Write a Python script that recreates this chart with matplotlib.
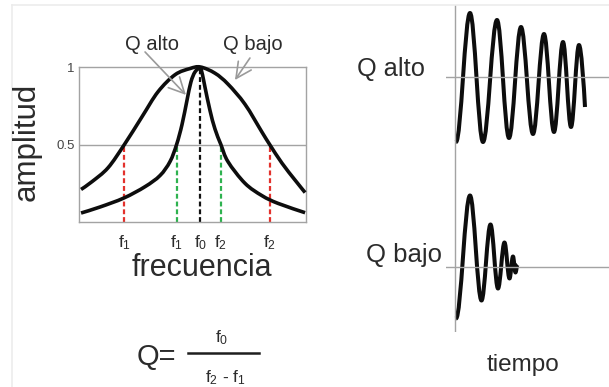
import numpy as np
import matplotlib
matplotlib.use("Agg")
import matplotlib.pyplot as plt
from matplotlib.path import Path
from matplotlib.patches import PathPatch
from matplotlib.lines import Line2D

plt.rcParams['font.family'] = 'Liberation Sans'

# resonance curves (frequency in arbitrary units, amplitude normalised)
f0 = 5.35
f1_bajo, f2_bajo = 2.0, 8.4
f1_alto, f2_alto = 4.3, 6.25

bajo_f = [0.09, 0.57, 1.28, 2.0, 2.78, 3.48, 4.23, 4.89, 5.35, 5.99, 6.56, 7.31, 8.06, 8.4, 8.94, 9.52, 9.96]
bajo_a = [0.21, 0.26, 0.35, 0.50, 0.68, 0.84, 0.95, 0.99, 1.0, 0.96, 0.89, 0.76, 0.58, 0.50, 0.38, 0.27, 0.19]

alto_izq_f = [0.09, 0.93, 1.98, 2.91, 3.57, 4.01, 4.3, 4.54, 4.76, 4.93, 5.11, 5.35]
alto_izq_a = [0.058, 0.097, 0.155, 0.228, 0.30, 0.39, 0.50, 0.63, 0.787, 0.903, 0.968, 1.0]
alto_der_f = [5.35, 5.44, 5.55, 5.77, 5.99, 6.25, 6.56, 7.31, 8.06, 8.77, 9.96]
alto_der_a = [1.0, 0.95, 0.87, 0.72, 0.60, 0.50, 0.39, 0.25, 0.17, 0.12, 0.06]

# damped oscillations: extrema (time, amplitude), arbitrary units
t_alto = [1, 15, 28, 42, 54, 66, 78, 89, 99, 108, 116, 124, 130]
a_alto = [-65, 64, -65, 57, -61, 50, -57, 43, -55, 35, -50, 32, -30]
t_bajo = [1, 15, 26.5, 35.5, 43, 49.5, 54.5, 58, 60.5, 62.5]
a_bajo = [-52, 71, -34, 42, -22, 24, -12, 10, -6, 2]

GRIS = '#a3a3a3'
TEXTO = '#2b2b2b'


def smooth_path(x, y):
    # Catmull-Rom through the points, as cubic Bezier segments
    p = np.column_stack([x, y]).astype(float)
    ext = np.vstack([p[0], p, p[-1]])
    verts = [p[0]]
    codes = [Path.MOVETO]
    for i in range(len(p) - 1):
        p0, p1, p2, p3 = ext[i], ext[i + 1], ext[i + 2], ext[i + 3]
        verts += [p1 + (p2 - p0) / 6, p2 - (p3 - p1) / 6, p2]
        codes += [Path.CURVE4] * 3
    return Path(verts, codes)


def wave_path(t, a, k=0.36, end_free=False):
    # half-cycles between extrema, flat tangent at each peak/trough
    verts = [(t[0], a[0])]
    codes = [Path.MOVETO]
    for i in range(len(t) - 1):
        dt = t[i + 1] - t[i]
        c1 = (t[i] + k * dt, a[i])
        if end_free and i == len(t) - 2:
            c2 = (t[i + 1] - 0.2 * dt, a[i + 1] + 0.35 * (a[i] - a[i + 1]))
        else:
            c2 = (t[i + 1] - k * dt, a[i + 1])
        verts += [c1, c2, (t[i + 1], a[i + 1])]
        codes += [Path.CURVE4] * 3
    return Path(verts, codes)


fig = plt.figure(figsize=(6.09, 3.87), dpi=100)
W, H = 609, 387

# light frame around the sheet
fig.add_artist(Line2D([12 / W, 1], [1 - 4.5 / H, 1 - 4.5 / H], color='#ececec', lw=1.2))
fig.add_artist(Line2D([12 / W, 12 / W], [0, 1 - 4.5 / H], color='#ececec', lw=1.2))

#%% amplitude vs frequency
ax = fig.add_axes([79 / W, 1 - 222 / H, 227 / W, 155 / H])
ax.set_xlim(0, 10)
ax.set_ylim(0, 1)
for s in ax.spines.values():
    s.set_color(GRIS)
    s.set_linewidth(1.0)
ax.axhline(0.5, color=GRIS, lw=1.0, zorder=1)

dash = dict(lw=1.6, dashes=(2.2, 1.3), zorder=2)
for f in (f1_bajo, f2_bajo):
    ax.plot([f, f], [0, 0.5], color='#e3312c', **dash)
for f in (f1_alto, f2_alto):
    ax.plot([f, f], [0, 0.5], color='#2eb24f', **dash)
ax.plot([f0, f0], [0, 1], color='#111111', **dash)

curva = dict(facecolor='none', edgecolor='#0d0d0d', lw=2.6, clip_on=False, zorder=3,
             joinstyle='round', capstyle='butt')
ax.add_patch(PathPatch(smooth_path(bajo_f, bajo_a), **curva))
ax.add_patch(PathPatch(smooth_path(alto_izq_f, alto_izq_a), **curva))
ax.add_patch(PathPatch(smooth_path(alto_der_f, alto_der_a), **curva))

ax.set_yticks([0.5, 1])
ax.set_yticklabels(['0.5', '1'], fontsize=9.5, color='#444444')
ax.set_xticks([f1_bajo, f1_alto, f0, f2_alto, f2_bajo])
ax.set_xticklabels([r'$\mathregular{f_1}$', r'$\mathregular{f_1}$', r'$\mathregular{f_0}$',
                    r'$\mathregular{f_2}$', r'$\mathregular{f_2}$'], fontsize=12.5, color=TEXTO)
ax.tick_params(length=0)
ax.tick_params(axis='y', pad=3)
ax.tick_params(axis='x', pad=8)

flecha = dict(arrowstyle='->,head_length=0.8,head_width=0.4', color='#9a9a9a', lw=1.2,
              shrinkA=0, shrinkB=0, mutation_scale=14)
ax.annotate('', xy=(4.71, 0.82), xytext=(2.91, 1.097), arrowprops=flecha, annotation_clip=False)
ax.annotate('', xy=(6.87, 0.916), xytext=(7.53, 1.058), arrowprops=flecha, annotation_clip=False)
ax.text(3.2, 1.148, 'Q alto', fontsize=14.5, color=TEXTO, ha='center', va='center', clip_on=False)
ax.text(7.67, 1.148, 'Q bajo', fontsize=14.5, color=TEXTO, ha='center', va='center', clip_on=False)

fig.text(202 / W, 1 - 276 / H, 'frecuencia', fontsize=22, color=TEXTO, ha='center', va='baseline')
fig.text(27 / W, 1 - 142 / H, 'amplitud', fontsize=22.5, color=TEXTO, ha='center', va='center',
         rotation=90)

# Q = f0 / (f2 - f1)
fig.text(137 / W, 1 - 365 / H, 'Q=', fontsize=21, color=TEXTO, ha='left', va='baseline')
fig.add_artist(Line2D([188 / W, 259 / W], [1 - 353 / H, 1 - 353 / H], color='#1e1e1e', lw=1.8))
fig.text(222 / W, 1 - 342 / H, r'$\mathregular{f_0}$', fontsize=12.5, color=TEXTO,
         ha='center', va='baseline')
fig.text(225 / W, 1 - 382 / H, r'$\mathregular{f_2}$ - $\mathregular{f_1}$', fontsize=12.5,
         color=TEXTO, ha='center', va='baseline')

#%% time response
onda = dict(facecolor='none', edgecolor='#0d0d0d', lw=2.9, clip_on=False,
            joinstyle='round', capstyle='butt')

ax_hi = fig.add_axes([446 / W, 1 - 160 / H, 163 / W, 155 / H])
ax_hi.set_xlim(-9, 154)
ax_hi.set_ylim(-83, 72)
ax_hi.axis('off')
ax_hi.axhline(0, color=GRIS, lw=1.0)
ax_hi.axvline(0, color=GRIS, lw=1.0)
ax_hi.add_patch(PathPatch(wave_path(t_alto, a_alto, end_free=True), **onda))

ax_lo = fig.add_axes([446 / W, 1 - 332 / H, 163 / W, 172 / H])
ax_lo.set_xlim(-9, 154)
ax_lo.set_ylim(-65.5, 106.5)
ax_lo.axis('off')
ax_lo.axhline(0, color=GRIS, lw=1.0)
ax_lo.axvline(0, color=GRIS, lw=1.0)
ax_lo.add_patch(PathPatch(wave_path(t_bajo, a_bajo), **onda))

fig.text(391 / W, 1 - 76 / H, 'Q alto', fontsize=18.3, color=TEXTO, ha='center', va='baseline')
fig.text(404 / W, 1 - 262 / H, 'Q bajo', fontsize=18.5, color=TEXTO, ha='center', va='baseline')
fig.text(523 / W, 1 - 371 / H, 'tiempo', fontsize=17.5, color=TEXTO, ha='center', va='baseline')

fig.savefig('out.png', dpi=100)
